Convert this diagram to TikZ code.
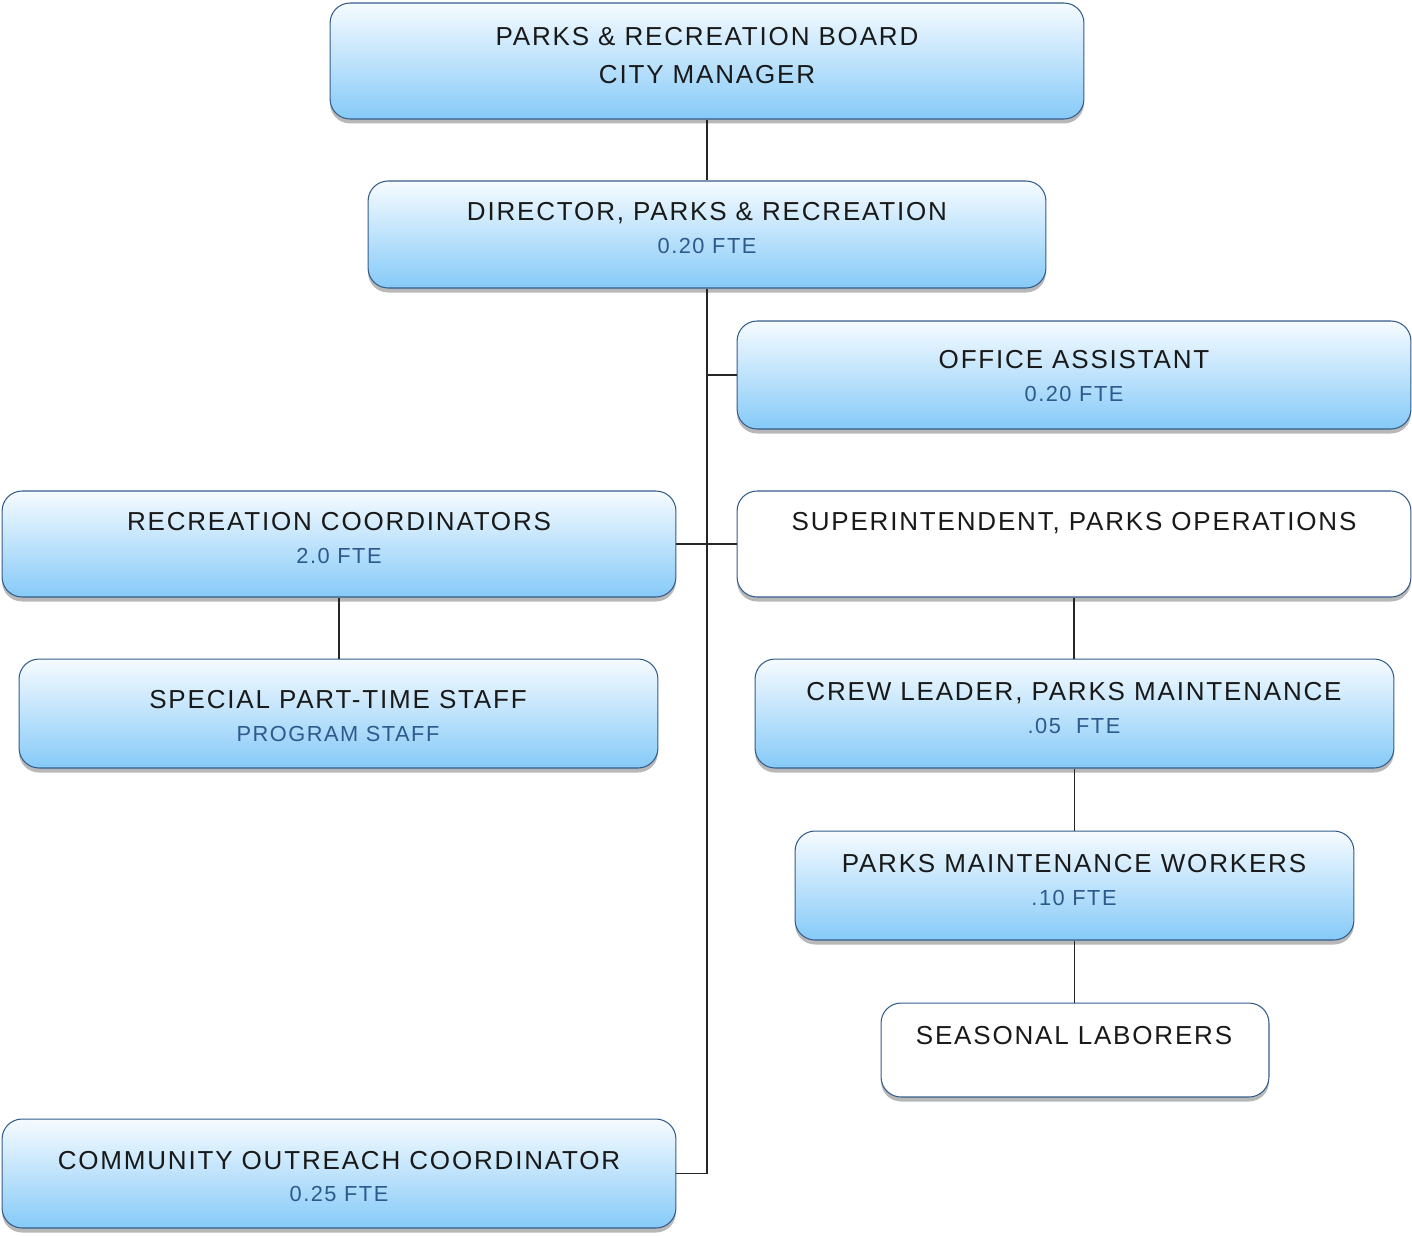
\documentclass[tikz,border=0pt]{standalone}
\usepackage{fontspec}
\newfontfamily\chartfont{Liberation Sans}[LetterSpace=7]
\usepackage{tikz}
\usetikzlibrary{shadows}

\definecolor{postline}{RGB}{52,92,138}
\definecolor{posttop}{RGB}{246,251,255}
\definecolor{postbot}{RGB}{134,202,248}
\definecolor{ftetext}{RGB}{44,90,140}

\begin{document}
\begin{tikzpicture}[x=0.02cm, y=-0.02cm,
  post/.style={draw=postline, line width=0.6pt, rounded corners=0.4cm,
    top color=posttop, bottom color=postbot, inner sep=0pt,
    drop shadow={shadow xshift=0cm, shadow yshift=-0.09cm, fill=black!28, opacity=1}},
  blankpost/.style={post, top color=white, bottom color=white},
  ttl/.style={anchor=base, font=\chartfont\fontsize{14.8}{17}\selectfont, text=black!90},
  fte/.style={anchor=base, font=\chartfont\fontsize{12.4}{14}\selectfont, text=ftetext},
  link/.style={line width=0.6pt, black!85}]
\useasboundingbox (0,0) rectangle (1412,1235);

% boxes
\node[post, minimum width=15.08cm, minimum height=2.32cm] (board) at (707,61) {};
\node[post, minimum width=13.56cm, minimum height=2.14cm] (dir) at (707,234.5) {};
\node[post, minimum width=13.48cm, minimum height=2.16cm] (office) at (1074,375) {};
\node[post, minimum width=13.48cm, minimum height=2.12cm] (rec) at (339,544) {};
\node[blankpost, minimum width=13.48cm, minimum height=2.12cm] (super) at (1074,544) {};
\node[post, minimum width=12.78cm, minimum height=2.18cm] (ptstaff) at (338.5,713.5) {};
\node[post, minimum width=12.78cm, minimum height=2.18cm] (crew) at (1074.5,713.5) {};
\node[post, minimum width=11.18cm, minimum height=2.18cm] (maint) at (1074.5,885.5) {};
\node[blankpost, minimum width=7.76cm, minimum height=1.88cm] (seasonal) at (1075,1050) {};
\node[post, minimum width=13.48cm, minimum height=2.18cm] (outreach) at (339,1173.5) {};

% titles
\node[ttl] (board-a) at (707,45) {PARKS \& RECREATION BOARD};
\node[ttl] (board-b) at (707,83) {CITY MANAGER};
\node[ttl] (dir-t) at (707,220) {DIRECTOR, PARKS \& RECREATION};
\node[fte] (dir-f) at (707,253) {0.20 FTE};
\node[ttl] (office-t) at (1074,368) {OFFICE ASSISTANT};
\node[fte] (office-f) at (1074,401) {0.20 FTE};
\node[ttl] (rec-t) at (339,530) {RECREATION COORDINATORS};
\node[fte] (rec-f) at (339,563) {2.0 FTE};
\node[ttl] (super-t) at (1074,530) {SUPERINTENDENT, PARKS OPERATIONS};
\node[ttl] (ptstaff-t) at (338,708) {SPECIAL PART-TIME STAFF};
\node[fte] (ptstaff-f) at (338,741) {PROGRAM STAFF};
\node[ttl] (crew-t) at (1074,700) {CREW LEADER, PARKS MAINTENANCE};
\node[fte] (crew-f) at (1074,733) {.05\ \ FTE};
\node[ttl] (maint-t) at (1074,872) {PARKS MAINTENANCE WORKERS};
\node[fte] (maint-f) at (1074,905) {.10 FTE};
\node[ttl] (seasonal-t) at (1074,1044) {SEASONAL LABORERS};
\node[ttl] (outreach-t) at (339,1169) {COMMUNITY OUTREACH COORDINATOR};
\node[fte] (outreach-f) at (339,1201) {0.25 FTE};

% links
\draw[link] (board) -- (dir);
\draw[link] (dir.south) |- (outreach.east);
\draw[link] (office.west) -- (office.west -| dir.south);
\draw[link] (rec.east) -- (super.west);
\draw[link] (rec.south) -- (rec.south |- ptstaff.north);
\draw[link] (super.south) -- (super.south |- crew.north);
\draw[link] (crew.south) -- (crew.south |- maint.north);
\draw[link] (maint.south) -- (maint.south |- seasonal.north);
\end{tikzpicture}
\end{document}
